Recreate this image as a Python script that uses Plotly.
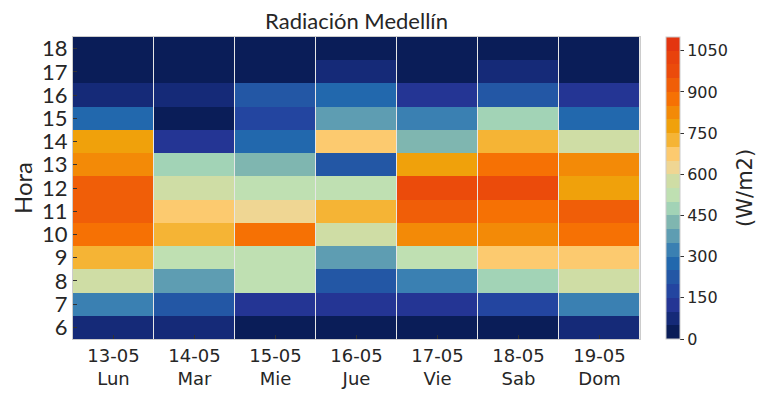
import plotly.graph_objects as go

dates = ["13-05", "14-05", "15-05", "16-05", "17-05", "18-05", "19-05"]
days = ["Lun", "Mar", "Mie", "Jue", "Vie", "Sab", "Dom"]
hours = [6, 7, 8, 9, 10, 11, 12, 13, 14, 15, 16, 17, 18]

# radiation (W/m2) per day, hours 6..18
rad_lun = [75, 325, 575, 725, 875, 925, 925, 825, 775, 275, 75, 20, 10]
rad_mar = [70, 225, 375, 525, 725, 675, 575, 475, 125, 30, 75, 15, 5]
rad_mie = [25, 125, 525, 525, 875, 625, 525, 425, 275, 175, 225, 20, 5]
rad_jue = [30, 125, 225, 375, 575, 725, 525, 225, 675, 375, 275, 75, 10]
rad_vie = [30, 125, 325, 525, 825, 925, 975, 775, 425, 325, 125, 25, 5]
rad_sab = [35, 175, 475, 675, 825, 875, 975, 875, 725, 475, 225, 75, 10]
rad_dom = [75, 325, 575, 675, 875, 925, 775, 825, 575, 275, 125, 20, 5]

band_colors = [
    "#0a1d58", "#152a78", "#243594", "#2345a0", "#2357a5", "#2268ad",
    "#3a80b2", "#5e9db2", "#7fb6b0", "#a2d3b6", "#bfe0b2", "#cfdda5",
    "#efd693", "#fcca6f", "#f5b435", "#f0a10b", "#f38a07", "#f67104",
    "#f05e08", "#eb4b0b", "#e8420d", "#e33510",
]
zmin, zmax = 0, 1100

n = len(band_colors)
colorscale = []
for i, c in enumerate(band_colors):
    colorscale.append([i / n, c])
    colorscale.append([(i + 1) / n, c])

cols = [rad_lun, rad_mar, rad_mie, rad_jue, rad_vie, rad_sab, rad_dom]
z = [[cols[d][h] for d in range(len(cols))] for h in range(len(hours))]
xpos = list(range(len(dates)))

fig = go.Figure(go.Heatmap(
    z=z, x=xpos, y=hours,
    colorscale=colorscale, zmin=zmin, zmax=zmax,
    xgap=1,
    colorbar=dict(
        thickness=14, len=1, lenmode="fraction", y=0.5, yanchor="middle",
        x=1.046, xanchor="left", xpad=0, ypad=0,
        outlinecolor="#cccccc", outlinewidth=1,
        tick0=0, dtick=150, ticks="outside", ticklen=4, tickcolor="#333333",
        tickfont=dict(family="DejaVu Sans", size=16, color="#262626"),
    ),
))

# page body has an 8px margin, so the figure is sized/offset to compensate
fig.update_layout(
    width=759, height=387,
    margin=dict(l=65, r=127, t=29, b=56, autoexpand=False),
    paper_bgcolor="white", plot_bgcolor="#e6e6e6",
    title=dict(text="Radiación Medellín", xref="paper", x=0.5, xanchor="center",
               y=0.965, yanchor="middle",
               font=dict(family="Lato", size=22, color="#262626")),
)
fig.add_annotation(
    text="(W/m2)", xref="paper", yref="paper", x=1.185, y=0.5,
    xanchor="center", yanchor="middle", textangle=-90, showarrow=False,
    font=dict(family="DejaVu Sans", size=21, color="#262626"),
)
fig.update_xaxes(
    tickvals=xpos, ticktext=[f"{d}<br>{w}" for d, w in zip(dates, days)],
    range=[-0.5, len(dates) - 0.5], showgrid=False, zeroline=False,
    ticks="inside", ticklen=4, tickcolor="#333333", layer="above traces",
    showline=True, mirror=True, linecolor="#cccccc", linewidth=1,
    automargin=False,
    tickfont=dict(family="DejaVu Sans", size=18, color="#262626"),
)
fig.update_yaxes(
    tickvals=hours, range=[hours[0] - 0.5, hours[-1] + 0.5],
    showgrid=False, zeroline=False,
    ticks="inside", ticklen=4, tickcolor="#333333", layer="above traces",
    showline=True, mirror=True, linecolor="#cccccc", linewidth=1,
    automargin=False,
    tickfont=dict(family="Lato", size=22, color="#262626"),
    title=dict(text="Hora", font=dict(family="Lato", size=24, color="#262626"),
               standoff=12),
)

fig.write_html("out.html")
